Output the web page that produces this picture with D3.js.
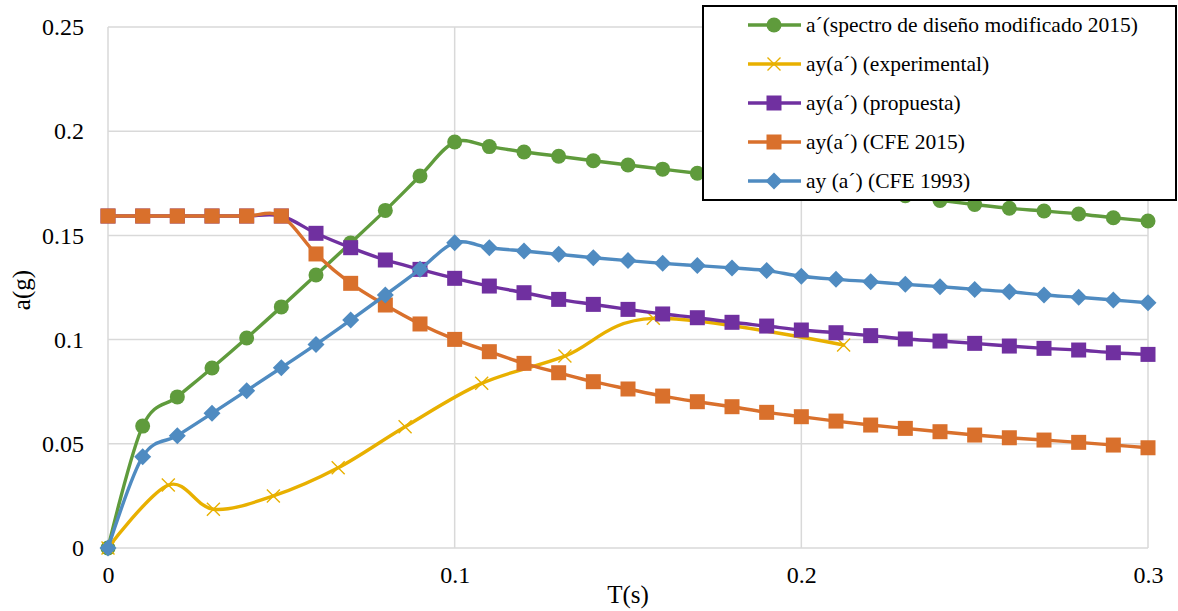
<!DOCTYPE html>
<html>
<head>
<meta charset="utf-8">
<script src="https://cdn.jsdelivr.net/npm/d3@7"></script>
<style>
  html, body { margin: 0; padding: 0; background: #ffffff; }
  svg { display: block; font-family: "Liberation Serif", "Times New Roman", serif; }
</style>
</head>
<body>
<svg id="chart" width="1178" height="611"></svg>
<script>
// ---- data ----
const periods = [0, 0.01, 0.02, 0.03, 0.04, 0.05, 0.06, 0.07, 0.08, 0.09, 0.10,
  0.11, 0.12, 0.13, 0.14, 0.15, 0.16, 0.17, 0.18, 0.19, 0.20,
  0.21, 0.22, 0.23, 0.24, 0.25, 0.26, 0.27, 0.28, 0.29, 0.30];

const espectroModificado = [0, 0.0585, 0.0725, 0.0864, 0.1008, 0.1157, 0.131, 0.1464, 0.162, 0.1785, 0.1948,
  0.1926, 0.190, 0.188, 0.1858, 0.1838, 0.1818, 0.1798, 0.178, 0.1762, 0.1744,
  0.1726, 0.1708, 0.169, 0.1668, 0.1648, 0.163, 0.1617, 0.1603, 0.1585, 0.1569];

const propuesta = [0, 0.1593, 0.1593, 0.1593, 0.1593, 0.1593, 0.151, 0.1441, 0.1382, 0.1337, 0.1294,
  0.1257, 0.1225, 0.1193, 0.1169, 0.1145, 0.1123, 0.1105, 0.1083, 0.1065, 0.1046,
  0.1033, 0.1019, 0.1003, 0.0993, 0.0982, 0.0969, 0.0958, 0.095, 0.0937, 0.0929];
// first value of propuesta / CFE 2015 at T=0
propuesta[0] = 0.1593;

const cfe2015 = [0.1593, 0.1593, 0.1593, 0.1593, 0.1593, 0.1593, 0.1411, 0.127, 0.1166, 0.1075, 0.1001,
  0.0942, 0.0886, 0.0841, 0.0798, 0.0763, 0.0729, 0.0702, 0.0678, 0.0651, 0.063,
  0.0609, 0.059, 0.0574, 0.0558, 0.0542, 0.0529, 0.0518, 0.0507, 0.0494, 0.0481];

const cfe1993 = [0, 0.0438, 0.0539, 0.0646, 0.0755, 0.0865, 0.0977, 0.1094, 0.1214, 0.1337, 0.1465,
  0.1441, 0.1425, 0.1409, 0.1393, 0.1379, 0.1366, 0.1355, 0.1344, 0.1331, 0.1304,
  0.1289, 0.1278, 0.1265, 0.1254, 0.1241, 0.123, 0.1214, 0.1203, 0.119, 0.1177];

const expT = [0, 0.0174, 0.0304, 0.0477, 0.0664, 0.0857, 0.1078, 0.1318, 0.1573, 0.2122];
const expA = [0, 0.0302, 0.0186, 0.025, 0.0385, 0.0582, 0.079, 0.0921, 0.1102, 0.0974];

const seriesNames = [
  "a´(spectro de diseño modificado 2015)",
  "ay(a´) (experimental)",
  "ay(a´) (propuesta)",
  "ay(a´) (CFE 2015)",
  "ay (a´) (CFE 1993)"
];
const xTicks = [0, 0.1, 0.2, 0.3];
const yTicks = [0, 0.05, 0.1, 0.15, 0.2, 0.25];
const xTitle = "T(s)";
const yTitle = "a(g)";

// ---- styles ----
const colors = ["#5f9b3c", "#e8b000", "#7030a0", "#d9702c", "#4f8bc1"];
const markers = ["circle", "cross", "square", "square", "diamond"];

const series = [
  { name: seriesNames[0], pts: periods.map((t, i) => [t, espectroModificado[i]]) },
  { name: seriesNames[1], pts: expT.map((t, i) => [t, expA[i]]) },
  { name: seriesNames[2], pts: periods.map((t, i) => [t, propuesta[i]]) },
  { name: seriesNames[3], pts: periods.map((t, i) => [t, cfe2015[i]]) },
  { name: seriesNames[4], pts: periods.map((t, i) => [t, cfe1993[i]]) }
];

const svg = d3.select("#chart");
const margin = { left: 108, top: 27, right: 1148, bottom: 548 };
const x = d3.scaleLinear().domain([0, 0.3]).range([margin.left, margin.right]);
const y = d3.scaleLinear().domain([0, 0.25]).range([margin.bottom, margin.top]);

// gridlines
const grid = svg.append("g");
grid.selectAll("line.h").data(yTicks).enter().append("line")
  .attr("x1", margin.left).attr("x2", margin.right)
  .attr("y1", d => y(d)).attr("y2", d => y(d))
  .attr("stroke", "#d9d9d9").attr("stroke-width", 1.5);
grid.selectAll("line.v").data(xTicks).enter().append("line")
  .attr("y1", margin.top).attr("y2", margin.bottom)
  .attr("x1", d => x(d)).attr("x2", d => x(d))
  .attr("stroke", "#d9d9d9").attr("stroke-width", 1.5);

// axes (text only)
const yAxis = d3.axisLeft(y).tickValues(yTicks).tickSize(0).tickPadding(24)
  .tickFormat(d => String(+d.toFixed(2)));
const gy = svg.append("g").attr("transform", `translate(${margin.left},0)`).call(yAxis);
gy.select(".domain").remove();
gy.selectAll("text").attr("font-size", 24).attr("fill", "#000")
  .attr("font-family", "Liberation Serif");

const xAxis = d3.axisBottom(x).tickValues(xTicks).tickSize(0).tickPadding(18)
  .tickFormat(d => String(+d.toFixed(1)));
const gx = svg.append("g").attr("transform", `translate(0,${margin.bottom})`).call(xAxis);
gx.select(".domain").remove();
gx.selectAll("text").attr("font-size", 24).attr("fill", "#000")
  .attr("font-family", "Liberation Serif");

svg.append("text").attr("x", 628).attr("y", 603).attr("text-anchor", "middle")
  .attr("font-size", 25).text(xTitle);
svg.append("text").attr("transform", "translate(30,290) rotate(-90)")
  .attr("text-anchor", "middle").attr("font-size", 25).text(yTitle);

// marker drawing
function drawMarker(g, type, cx, cy, color) {
  if (type === "circle") {
    g.append("circle").attr("cx", cx).attr("cy", cy).attr("r", 7.5).attr("fill", color);
  } else if (type === "square") {
    g.append("rect").attr("x", cx - 7.5).attr("y", cy - 7.5).attr("width", 15).attr("height", 15)
      .attr("fill", color);
  } else if (type === "diamond") {
    g.append("path").attr("d", `M${cx},${cy - 8.5}L${cx + 8.5},${cy}L${cx},${cy + 8.5}L${cx - 8.5},${cy}Z`)
      .attr("fill", color);
  } else if (type === "cross") {
    const s = 6.5;
    g.append("path").attr("d", `M${cx - s},${cy - s}L${cx + s},${cy + s}M${cx - s},${cy + s}L${cx + s},${cy - s}`)
      .attr("stroke", color).attr("stroke-width", 1.4).attr("fill", "none");
  }
}

const line = d3.line().x(d => x(d[0])).y(d => y(d[1])).curve(d3.curveCardinal.tension(0));

series.forEach((s, i) => {
  const g = svg.append("g");
  g.append("path").attr("d", line(s.pts)).attr("fill", "none")
    .attr("stroke", colors[i]).attr("stroke-width", 3.4).attr("stroke-linejoin", "round")
    .attr("stroke-linecap", "round");
  s.pts.forEach(p => drawMarker(g, markers[i], x(p[0]), y(p[1]), colors[i]));
});

// legend
const lg = svg.append("g");
lg.append("rect").attr("x", 703).attr("y", 6).attr("width", 473).attr("height", 194)
  .attr("fill", "#fff").attr("stroke", "#000").attr("stroke-width", 2);
seriesNames.forEach((name, i) => {
  const cy = 25 + i * 39;
  lg.append("line").attr("x1", 748).attr("x2", 801).attr("y1", cy).attr("y2", cy)
    .attr("stroke", colors[i]).attr("stroke-width", 3.4);
  drawMarker(lg, markers[i], 774, cy, colors[i]);
  lg.append("text").attr("x", 806).attr("y", cy + 7).attr("font-size", 21.5).attr("fill", "#000")
    .text(name);
});
</script>
</body>
</html>
